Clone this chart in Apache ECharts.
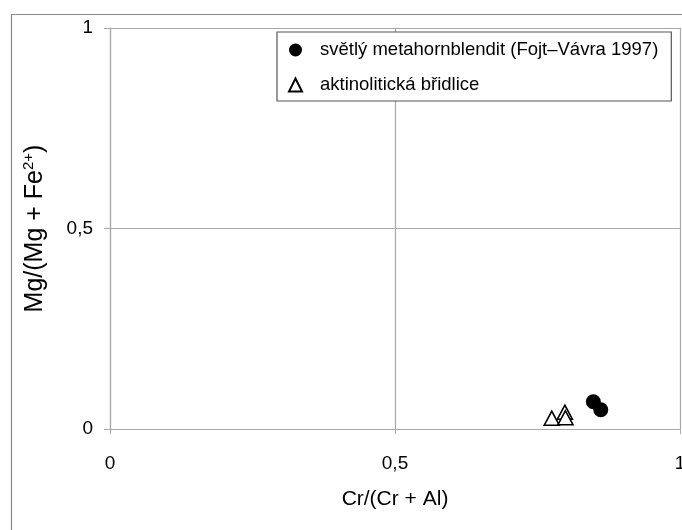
<!DOCTYPE html>
<html><head><meta charset="utf-8">
<script src="https://cdn.jsdelivr.net/npm/echarts@6/dist/echarts.min.js"></script>
<style>html,body{margin:0;padding:0;background:#fff}#c{width:682px;height:530px}</style>
</head><body><div id="c"></div>
<script>
const seriesNames = ['světlý metahornblendit (Fojt–Vávra 1997)', 'aktinolitická břidlice'];
const metahornblenditX = [0.848, 0.861];
const metahornblenditY = [0.068, 0.048];
const bridliceX = [0.775, 0.798, 0.799];
const bridliceY = [0.027, 0.042, 0.028];
const xTicks = [0, 0.5, 1];
const yTicks = [0, 0.5, 1];
const xTitle = 'Cr/(Cr + Al)';

const fmt = v => String(v).replace('.', ',');
const pts = (xs, ys) => xs.map((x, i) => [x, ys[i]]);
const font = '"Liberation Sans", Arial, sans-serif';
const chart = echarts.init(document.getElementById('c'));
chart.setOption({
  animation: false,
  textStyle: {fontFamily: font},
  graphic: [{type: 'rect', left: 9, top: 12, shape: {width: 700, height: 600}, style: {fill: 'none', stroke: '#8a8a8a', lineWidth: 1.2}, z: -1}],
  grid: {left: 110, top: 28, right: 2, bottom: 101, outerBoundsMode: 'none', containLabel: false},
  legend: {
    orient: 'vertical', left: 277, top: 32,
    backgroundColor: '#fff', borderColor: '#555', borderWidth: 1.2,
    padding: [6, 13, 4, 11], itemGap: 11, itemWidth: 13, itemHeight: 13,
    textStyle: {fontFamily: font, fontSize: 18.5, lineHeight: 24, color: '#000', padding: [0, 0, 0, 13]},
    data: seriesNames
  },
  xAxis: {
    type: 'value', min: 0, max: 1, interval: 0.5,
    name: xTitle, nameLocation: 'middle', nameGap: 60,
    nameTextStyle: {fontFamily: font, fontSize: 21, color: '#000'},
    axisLine: {show: true, lineStyle: {color: '#a8a8a8', width: 1.2}},
    axisTick: {show: true, inside: false, length: 5, lineStyle: {color: '#a8a8a8'}},
    axisLabel: {formatter: fmt, margin: 25, fontSize: 19, color: '#000', fontFamily: font},
    splitLine: {show: true, lineStyle: {color: '#a8a8a8', width: 1.2}}
  },
  yAxis: {
    type: 'value', min: 0, max: 1, interval: 0.5,
    name: '{a|Mg/(Mg + Fe}{s|2+}{a|)}', nameLocation: 'middle', nameGap: 61, nameRotate: 90,
    nameTextStyle: {fontFamily: font, fontSize: 25, color: '#000',
      rich: {a: {fontFamily: font, fontSize: 25, color: '#000'}, s: {fontFamily: font, fontSize: 15, color: '#000', padding: [0, 0, 13, 0]}}},
    axisLine: {show: true, lineStyle: {color: '#a8a8a8', width: 1.2}},
    axisTick: {show: true, inside: false, length: 6, lineStyle: {color: '#a8a8a8'}},
    axisLabel: {formatter: fmt, margin: 17, fontSize: 19, color: '#000', fontFamily: font},
    splitLine: {show: true, lineStyle: {color: '#a8a8a8', width: 1.2}}
  },
  series: [
    {name: seriesNames[0], type: 'scatter', symbol: 'circle', symbolSize: 15,
     itemStyle: {color: '#000', opacity: 1}, data: pts(metahornblenditX, metahornblenditY), z: 3},
    {name: seriesNames[1], type: 'scatter', symbol: 'triangle', symbolSize: [15, 14],
     itemStyle: {color: '#fff', borderColor: '#000', borderWidth: 1.6, opacity: 1}, data: pts(bridliceX, bridliceY), z: 2}
  ]
});
</script></body></html>
